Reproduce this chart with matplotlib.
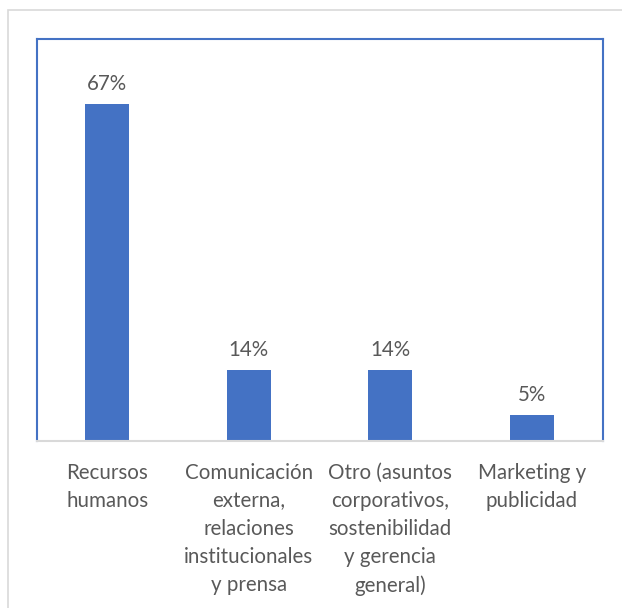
import matplotlib.pyplot as plt
import matplotlib.patches as mpatches
import numpy as np

plt.rcParams['font.family'] = ['Lato', 'DejaVu Sans']

categorias = ['Recursos\nhumanos',
              'Comunicación\nexterna,\nrelaciones\ninstitucionales\ny prensa',
              'Otro (asuntos\ncorporativos,\nsostenibilidad\ny gerencia\ngeneral)',
              'Marketing y\npublicidad']
porcentajes = [0.67, 0.14, 0.14, 0.05]
etiquetas = ['67%', '14%', '14%', '5%']

azul = '#4472C4'
gris_txt = '#595959'

fig = plt.figure(figsize=(6.22, 6.08), dpi=100)
ax = fig.add_axes([36.5/622, 1-440.5/608, (602.7-36.5)/622, (440.5-39)/608])

x = np.arange(len(categorias))
barras = ax.bar(x, porcentajes, width=0.31, color=azul, zorder=2)

for b, txt in zip(barras, etiquetas):
    ax.annotate(txt, (b.get_x() + b.get_width()/2, b.get_height()),
                xytext=(0, 7.5), textcoords='offset points',
                ha='center', va='bottom', fontsize=14.8, color=gris_txt)

ax.set_xlim(-0.5, len(categorias) - 0.5)
ax.set_ylim(0, 0.80)
ax.set_yticks([])
ax.set_xticks(x)
ax.set_xticklabels(categorias, fontsize=14.8, color=gris_txt, linespacing=1.5)
ax.tick_params(axis='x', length=0, pad=16)

for s in ['left', 'top', 'right']:
    ax.spines[s].set_color(azul)
    ax.spines[s].set_linewidth(1.5)
ax.spines['bottom'].set_color('#D9D9D9')
ax.spines['bottom'].set_linewidth(1.5)
ax.spines['bottom'].set_zorder(3)

# marco gris exterior
borde = mpatches.Rectangle((8/622, -0.1), 1.2, 1.1 - 10.5/608,
                           transform=fig.transFigure, fill=False,
                           edgecolor='#D9D9D9', linewidth=1.2)
fig.patches.append(borde)

fig.savefig('out.png', dpi=100)
